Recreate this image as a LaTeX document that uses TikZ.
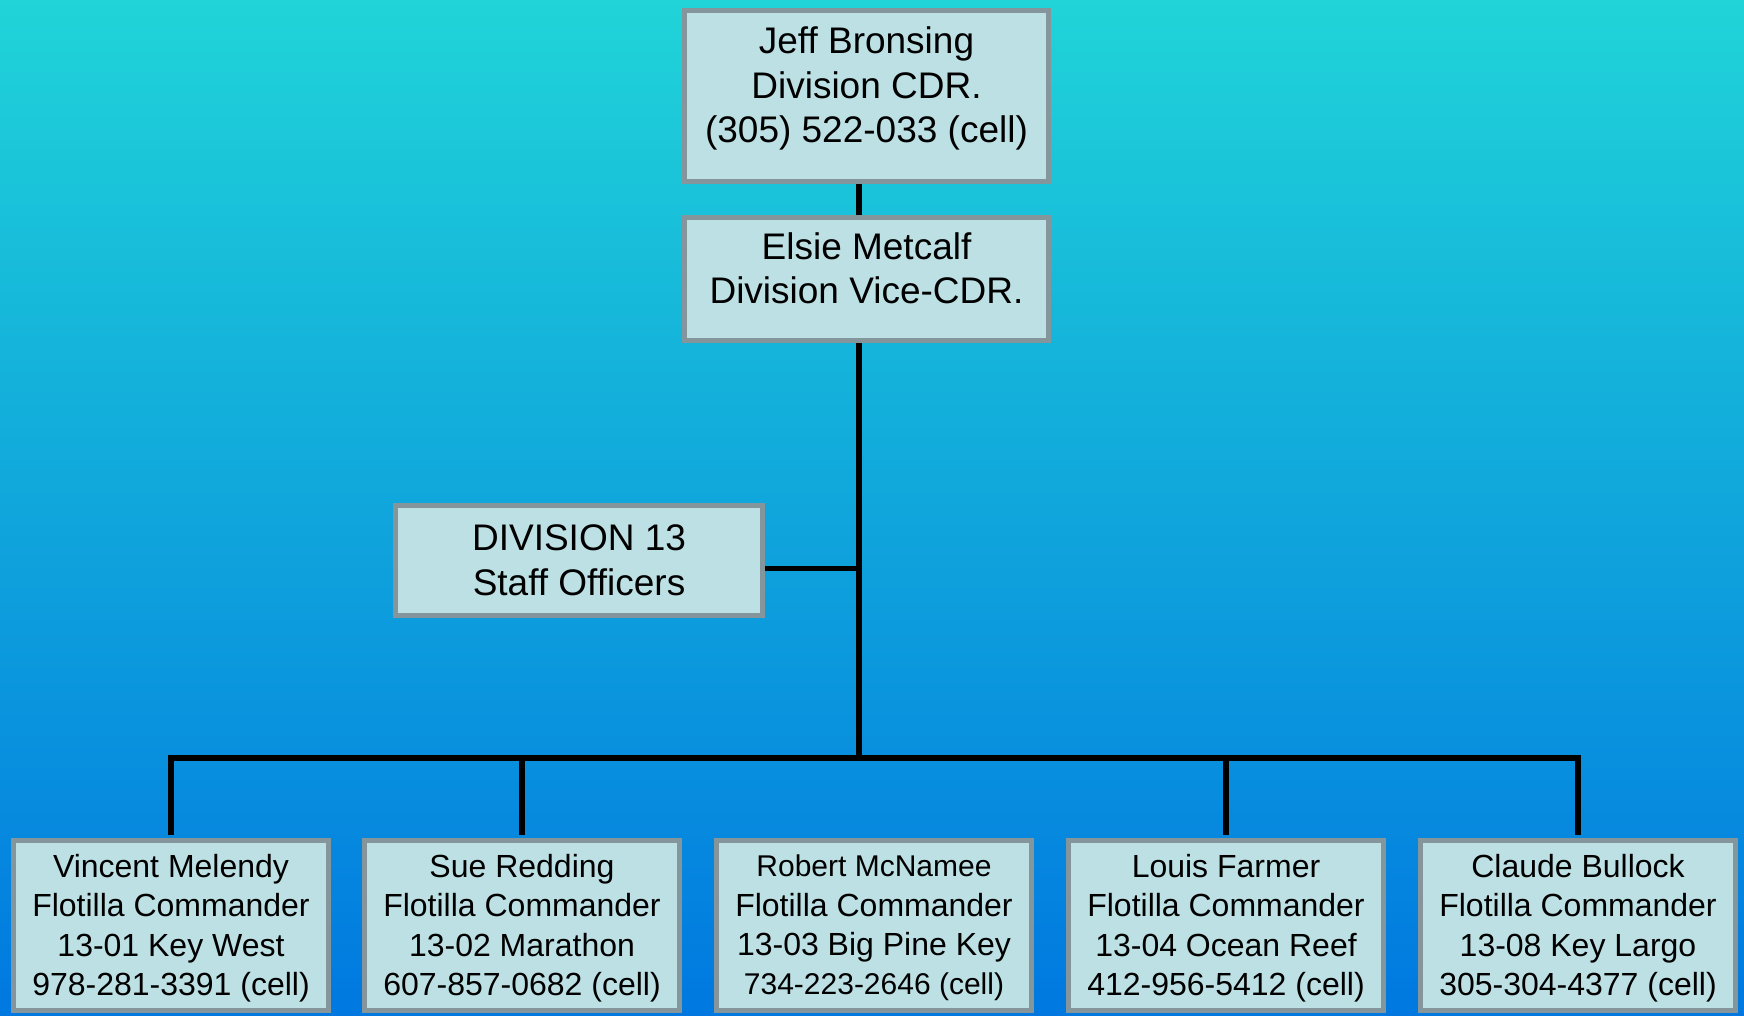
\documentclass[tikz,border=0pt]{standalone}
\usepackage{fontspec}
\setmainfont{Liberation Sans}
\usetikzlibrary{calc}

\definecolor{bgtop}{RGB}{32,212,216}
\definecolor{bgmid}{RGB}{18,171,226}
\definecolor{bgbot}{RGB}{0,120,224}
\definecolor{boxfill}{RGB}{188,224,228}
\definecolor{boxline}{RGB}{132,150,155}

\begin{document}
\begin{tikzpicture}[
    x=0.5pt, y=-0.5pt,
    orgbox/.style={draw=boxline, fill=boxfill, line width=2.5pt, align=center, inner sep=0pt},
    bigtext/.style={font=\fontsize{18.5}{22.25}\selectfont},
    flotilla/.style={orgbox, font=\fontsize{16}{19.7}\selectfont, text depth=-2pt,
        minimum width=157.5pt, minimum height=85pt},
    link/.style={line width=2.8pt, black}]

    % background
    \shade[top color=bgtop, middle color=bgmid, bottom color=bgbot] (0,0) rectangle (1744,1016);
    \useasboundingbox (0,0) rectangle (1744,1016);

    % division officers
    \node[orgbox, bigtext, text depth=11pt, minimum width=182pt, minimum height=85.5pt] (cdr) at (866.5,96)
        {Jeff Bronsing\\Division CDR.\\(305) 522-033 (cell)};
    \node[orgbox, bigtext, text depth=11pt, minimum width=182pt, minimum height=61.5pt] (vcdr) at (866.5,279)
        {Elsie Metcalf\\Division Vice-CDR.};

    % staff
    \node[orgbox, bigtext, minimum width=183.5pt, minimum height=55pt] (staff) at (579,560.5)
        {DIVISION 13\\Staff Officers};

    % flotillas
    \node[flotilla] (fl01) at (171,925)
        {Vincent Melendy\\Flotilla Commander\\13-01 Key West\\978-281-3391 (cell)};
    \node[flotilla] (fl02) at (522,925)
        {Sue Redding\\Flotilla Commander\\13-02 Marathon\\607-857-0682 (cell)};
    \node[flotilla] (fl03) at (874,925)
        {{\fontsize{15}{19.7}\selectfont Robert McNamee}\\Flotilla Commander\\13-03 Big Pine Key\\{\fontsize{15}{19.7}\selectfont 734-223-2646 (cell)}};
    \node[flotilla] (fl04) at (1226,925)
        {Louis Farmer\\Flotilla Commander\\13-04 Ocean Reef\\412-956-5412 (cell)};
    \node[flotilla] (fl08) at (1578,925)
        {Claude Bullock\\Flotilla Commander\\13-08 Key Largo\\305-304-4377 (cell)};

    % chain of command
    \coordinate (spine) at (859,758);
    \draw[link] (cdr.south -| spine) -- (vcdr.north -| spine);
    \draw[link] (vcdr.south -| spine) -- (spine);
    \draw[link] ([yshift=-4pt]staff.east) -- ([yshift=-4pt]staff.east -| spine);

    % bus to flotillas
    \draw[link, shorten <=1.25pt, shorten >=1.25pt] (fl01.north) -- (fl01.north |- spine)
        -- (fl08.north |- spine) -- (fl08.north);
    \draw[link, shorten >=1.25pt] (fl02.north |- spine) -- (fl02.north);
    \draw[link, shorten >=1.25pt] (fl04.north |- spine) -- (fl04.north);

\end{tikzpicture}
\end{document}
